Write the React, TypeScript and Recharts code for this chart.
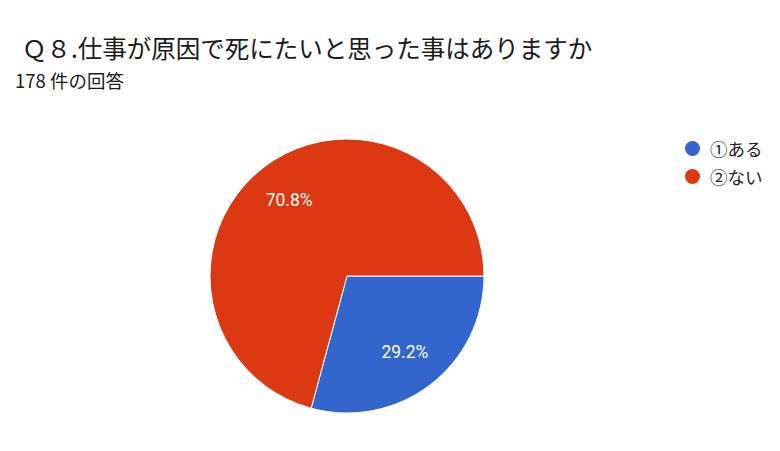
import { PieChart, Pie, Cell, Legend } from "recharts";

const categories = ["①ある", "②ない"];
const counts = [52, 126];
const colors = ["#3366cc", "#dc3912"];

const data = categories.map((name, i) => ({ name, value: counts[i] }));

const RADIAN = Math.PI / 180;
const FONT = "'Noto Sans CJK JP', Roboto, sans-serif";

function renderLabel({ cx, cy, midAngle, outerRadius, percent }: any) {
  const r = outerRadius * 0.695;
  const x = cx + r * Math.cos(-midAngle * RADIAN);
  const y = cy + r * Math.sin(-midAngle * RADIAN);
  return (
    <text
      x={x}
      y={y}
      fill="#ffffff"
      fontSize={17.5}
      fontFamily="Roboto, sans-serif"
      textAnchor="middle"
      dominantBaseline="central"
    >
      {(percent * 100).toFixed(1)}%
    </text>
  );
}

function LegendContent() {
  return (
    <div style={{ fontFamily: FONT }}>
      {categories.map((name, i) => (
        <div key={name} style={{ display: "flex", alignItems: "center", height: 28 }}>
          <span
            style={{
              width: 15,
              height: 15,
              borderRadius: "50%",
              background: colors[i],
              display: "inline-block",
              marginRight: 10,
            }}
          />
          <span style={{ fontSize: 17.5, color: "#222" }}>{name}</span>
        </div>
      ))}
    </div>
  );
}

export default function App() {
  return (
    <div style={{ position: "absolute", left: 0, top: 0, width: 780, height: 451, background: "#fff" }}>
      <div
        style={{
          position: "absolute",
          left: 22,
          top: 30,
          fontSize: 24.5,
          fontFamily: FONT,
          color: "#1a1a1a",
          whiteSpace: "nowrap",
        }}
      >
        Ｑ８.仕事が原因で死にたいと思った事はありますか
      </div>
      <div
        style={{
          position: "absolute",
          left: 15,
          top: 67,
          fontSize: 18.5,
          fontFamily: FONT,
          color: "#1a1a1a",
          whiteSpace: "nowrap",
        }}
      >
        178 件の回答
      </div>
      <PieChart
        width={780}
        height={451}
        margin={{ top: 0, right: 0, bottom: 0, left: 0 }}
        style={{ position: "absolute", left: 0, top: 0 }}
      >
        <Pie
          data={data}
          dataKey="value"
          nameKey="name"
          cx={347}
          cy={276}
          outerRadius={137}
          startAngle={0}
          endAngle={-360}
          stroke="#ffffff"
          strokeWidth={1}
          labelLine={false}
          label={renderLabel}
          isAnimationActive={false}
        >
          {data.map((entry, i) => (
            <Cell key={entry.name} fill={colors[i]} />
          ))}
        </Pie>
        <Legend
          layout="vertical"
          align="right"
          verticalAlign="top"
          content={<LegendContent />}
          wrapperStyle={{ left: 685, top: 134, width: 95 }}
        />
      </PieChart>
    </div>
  );
}
